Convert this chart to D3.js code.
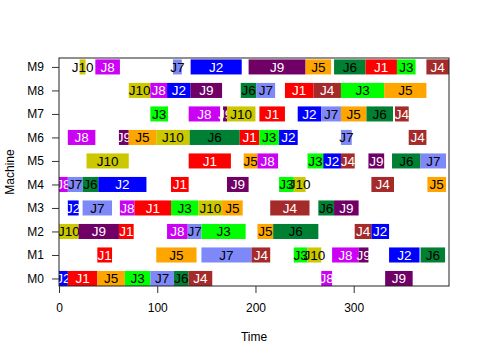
<!DOCTYPE html>
<html>
<head>
<meta charset="utf-8">
<script src="https://cdn.jsdelivr.net/npm/d3@7"></script>
<style>
  html, body { margin: 0; padding: 0; background: #fff; }
  svg { display: block; font-family: "Liberation Sans", Arial, sans-serif; }
</style>
</head>
<body>
<svg id="chart" width="480" height="360"></svg>
<script>
// ---- data ----
const machines = ["M0","M1","M2","M3","M4","M5","M6","M7","M8","M9"];
const jobs = ["J1","J2","J3","J4","J5","J6","J7","J8","J9","J10"];
const jobColors = ["#FF0000","#0000FF","#00FF00","#A52A2A","#FFA500","#008033","#7F88F8","#CC00F5","#700066","#CCC800"];
const jobTextColors = ["#fff","#fff","#000","#fff","#000","#000","#000","#fff","#fff","#000"];
const xTicks = [0, 100, 200, 300];
const makespan = 397;

// each entry: [job, start, end]
const scheduleM0 = [["J2",0,9],["J1",9,39],["J5",39,67],["J3",67,93],["J7",93,117],["J6",117,132],["J4",132,156],["J8",267,278],["J9",332,360]];
const scheduleM1 = [["J1",39,54],["J5",99,140],["J7",145,196],["J4",196,215],["J3",239,253],["J10",253,267],["J8",278,305],["J9",305,315],["J2",336,367],["J6",368,393]];
const scheduleM2 = [["J10",0,20],["J9",20,61],["J1",61,76],["J8",110,131],["J7",131,145],["J3",145,190],["J5",202,218],["J6",218,264],["J4",301,318],["J2",318,336]];
const scheduleM3 = [["J2",9,20],["J7",24,54],["J8",62,77],["J1",77,114],["J3",114,142],["J10",142,166],["J5",166,187],["J4",215,255],["J6",264,280],["J9",280,305]];
const scheduleM4 = [["J8",0,9],["J7",9,24],["J6",24,40],["J2",40,89],["J1",114,132],["J9",171,193],["J3",224,239],["J10",239,251],["J4",318,341],["J5",375,394]];
const scheduleM5 = [["J10",28,71],["J1",132,175],["J5",188,202],["J8",202,223],["J3",253,269],["J2",269,287],["J4",287,301],["J9",315,331],["J6",339,368],["J7",368,394]];
const scheduleM6 = [["J8",9,37],["J9",61,71],["J5",71,99],["J10",99,133],["J6",133,184],["J1",184,204],["J3",204,224],["J2",224,243],["J7",287,298],["J4",356,374]];
const scheduleM7 = [["J3",93,111],["J8",132,164],["J9",167,171],["J10",171,200],["J1",204,230],["J2",243,267],["J7",267,287],["J5",287,313],["J6",313,340],["J4",342,356]];
const scheduleM8 = [["J10",71,93],["J8",93,110],["J2",110,134],["J9",134,166],["J6",185,201],["J7",201,220],["J1",230,259],["J4",259,287],["J3",287,331],["J5",331,374]];
const scheduleM9 = [["J10",21,27],["J8",37,62],["J7",116,125],["J2",134,186],["J9",193,251],["J5",251,277],["J6",280,312],["J1",312,344],["J3",344,363],["J4",374,397]];
const schedules = [scheduleM0,scheduleM1,scheduleM2,scheduleM3,scheduleM4,scheduleM5,scheduleM6,scheduleM7,scheduleM8,scheduleM9];

// ---- layout ----
const plot = { left: 59, right: 449, top: 58, bottom: 286 };
const svg = d3.select("#chart");

const x = d3.scaleLinear().domain([0, makespan]).range([plot.left, plot.right]);
const y = d3.scaleLinear().domain([-0.32, 9.38]).range([plot.bottom, plot.top]);
const barHalf = 0.32;
const color = d3.scaleOrdinal().domain(jobs).range(jobColors);
const textColor = d3.scaleOrdinal().domain(jobs).range(jobTextColors);

svg.append("defs").append("clipPath").attr("id", "clip")
  .append("rect")
  .attr("x", plot.left).attr("y", plot.top)
  .attr("width", plot.right - plot.left).attr("height", plot.bottom - plot.top);

const g = svg.append("g").attr("clip-path", "url(#clip)");

// draw rect then label, in time order per machine (later bars cover earlier labels)
schedules.forEach((sched, mi) => {
  sched.forEach(([job, s, e]) => {
    const grp = g.append("g");
    grp.append("rect")
      .attr("x", x(s))
      .attr("y", y(mi + barHalf))
      .attr("width", x(e) - x(s))
      .attr("height", y(mi - barHalf) - y(mi + barHalf))
      .attr("fill", color(job));
    grp.append("text")
      .attr("x", (x(s) + x(e)) / 2)
      .attr("y", y(mi))
      .attr("dy", "0.36em")
      .attr("text-anchor", "middle")
      .attr("font-size", "13.5px")
      .attr("fill", textColor(job))
      .text(job);
  });
});

// box
svg.append("rect")
  .attr("x", plot.left).attr("y", plot.top)
  .attr("width", plot.right - plot.left).attr("height", plot.bottom - plot.top)
  .attr("fill", "none").attr("stroke", "#222").attr("stroke-width", 1);

// y axis
const yAxis = d3.axisLeft(y)
  .tickValues(d3.range(machines.length))
  .tickFormat(i => machines[i])
  .tickSize(7).tickPadding(8);
const ya = svg.append("g").attr("transform", `translate(${plot.left},0)`).call(yAxis);
ya.select(".domain").remove();
ya.selectAll("text").attr("font-size", "12px").attr("font-family", "Liberation Sans, Arial, sans-serif").attr("fill", "#000");
ya.selectAll("line").attr("stroke", "#333");

// x axis
const xAxis = d3.axisBottom(x).tickValues(xTicks).tickFormat(d3.format("d")).tickSize(7).tickPadding(10);
const xa = svg.append("g").attr("transform", `translate(0,${plot.bottom})`).call(xAxis);
xa.select(".domain").remove();
xa.selectAll("text").attr("font-size", "12px").attr("font-family", "Liberation Sans, Arial, sans-serif").attr("fill", "#000");
xa.selectAll("line").attr("stroke", "#333");

// axis titles
svg.append("text")
  .attr("x", (plot.left + plot.right) / 2).attr("y", 341)
  .attr("text-anchor", "middle").attr("font-size", "12px").text("Time");
svg.append("text")
  .attr("transform", `translate(14,${(plot.top + plot.bottom) / 2}) rotate(-90)`)
  .attr("text-anchor", "middle").attr("font-size", "12px").text("Machine");
</script>
</body>
</html>
